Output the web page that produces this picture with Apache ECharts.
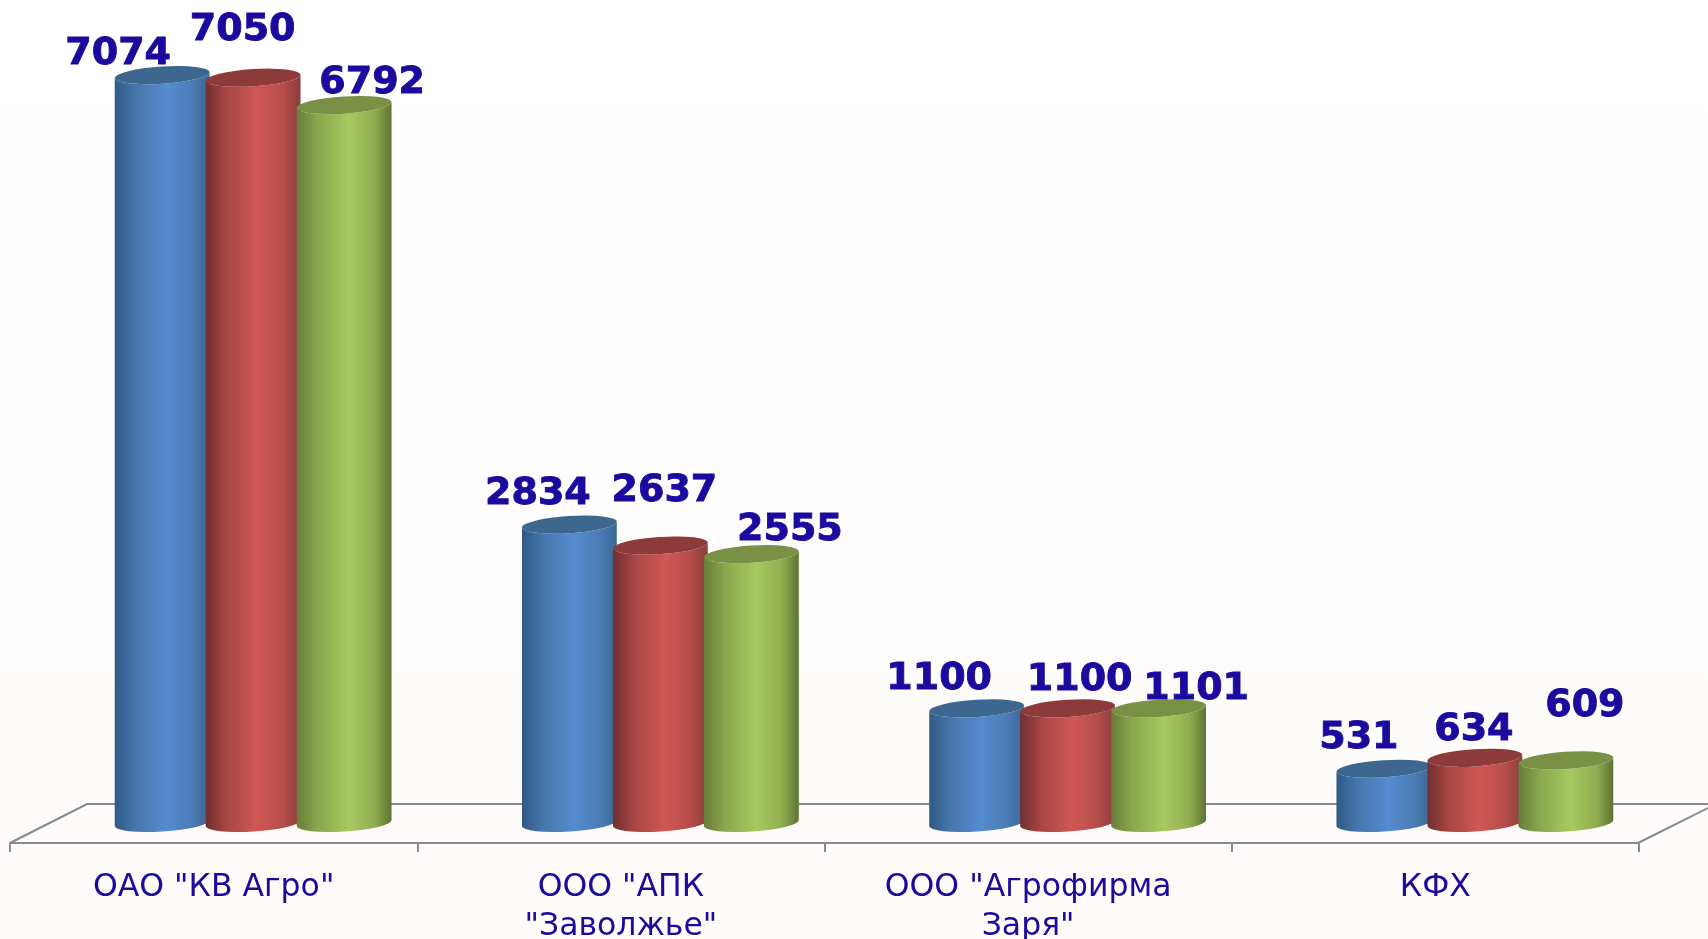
<!DOCTYPE html>
<html><head><meta charset="utf-8">
<style>html,body{margin:0;padding:0;width:100%;height:100%;overflow:hidden;background:#fff}#c{width:1708px;height:939px}</style>
<script src="https://cdn.jsdelivr.net/npm/echarts@6/dist/echarts.min.js"></script>
</head><body><div id="c"></div>
<script>
const categories = ['ОАО "КВ Агро"', 'ООО "АПК\n"Заволжье"', 'ООО "Агрофирма\nЗаря"', 'КФХ'];
const seriesA = [7074, 2834, 1100, 531];
const seriesB = [7050, 2637, 1100, 634];
const seriesC = [6792, 2555, 1101, 609];

// hand-placed data-label offsets from each cylinder's top centre
const labelOffsetsA = [[-44,-22],[-31.5,-31],[-37.5,-30],[-25,-31]];
const labelOffsetsB = [[-10.5,-48],[4,-54.5],[12,-29],[-1,-28]];
const labelOffsetsC = [[28,-22],[38.5,-25],[37.5,-20],[19,-55]];

const TEXT = '#1a0a9e', AXIS = '#8a8a8a';
const G = {left:10, width:1629, baseY:825, top:30};
const PITCH = 91, SHIFT = 39.5, W = 95, RY = 8.6, TILT = -3.6, BASE_LIFT = 2;
const palettes = [
  {l:'#2f5a86', a:'#4676ab', m:'#558ccf', b:'#4a7cb5', r:'#3a6692', top:'#3e678f'},
  {l:'#6f2f2f', a:'#a84644', m:'#cf5855', b:'#b54d4b', r:'#8a3d3c', top:'#8d3b3a'},
  {l:'#677c36', a:'#8aa64e', m:'#a8c960', b:'#92ad50', r:'#5f7330', top:'#7a9044'}
];

function cylinder(idx, offsets) {
  const pal = palettes[idx];
  return function (params, api) {
    const cat = api.value(0), val = api.value(1);
    const top = api.coord([cat, val]), base = api.coord([cat, 0]);
    const cx = top[0] + SHIFT + (idx - 1) * PITCH;
    const rx = W / 2, t = TILT * Math.PI / 180;
    const dx = rx * Math.cos(t), dy = rx * Math.sin(t);
    const lt = [cx - dx, top[1] - dy], rt = [cx + dx, top[1] + dy];
    const lb = [cx - dx, base[1] - BASE_LIFT - dy], rb = [cx + dx, base[1] - BASE_LIFT + dy];
    const arc = (sweep, p) => `A ${rx} ${RY} ${TILT} 0 ${sweep} ${p[0]} ${p[1]}`;
    const body = `M ${lt[0]} ${lt[1]} L ${lb[0]} ${lb[1]} ${arc(0, rb)} L ${rt[0]} ${rt[1]} ${arc(1, lt)} Z`;
    const cap = `M ${lt[0]} ${lt[1]} ${arc(1, rt)} ${arc(1, lt)} Z`;
    const off = offsets[cat];
    return {type:'group', children:[
      {type:'path', shape:{pathData:body}, style:{fill:new echarts.graphic.LinearGradient(0,0,1,0,[
        {offset:0, color:pal.l},{offset:0.22, color:pal.a},{offset:0.55, color:pal.m},{offset:0.82, color:pal.b},{offset:1, color:pal.r}])}},
      {type:'path', shape:{pathData:cap}, style:{fill:pal.top}},
      {type:'text', z2:10, style:{text:String(val), x:cx + off[0], y:top[1] + off[1] + 0.5,
        textAlign:'center', textVerticalAlign:'middle', fill:TEXT, stroke:TEXT, lineWidth:0.9,
        font:'bold 38px "DejaVu Sans"'}}
    ]};
  };
}

const mk = (name, data, idx, offs) => ({
  type:'custom', name, renderItem:cylinder(idx, offs),
  encode:{x:0, y:1}, clip:false, silent:true, z:2 + idx,
  data:data.map((v, i) => [i, v])
});

const chart = echarts.init(document.getElementById('c'), null, {renderer:'canvas'});
const right = G.left + G.width - 1;
const floorStyle = {stroke:AXIS, lineWidth:2, fill:null};
chart.setOption({
  animation:false,
  backgroundColor:new echarts.graphic.LinearGradient(0,0,0,1,[
    {offset:0, color:'#ffffff'},{offset:0.5, color:'#fffdfd'},{offset:1, color:'#fefbfa'}]),
  grid:{left:G.left, width:G.width, top:G.top, height:G.baseY - G.top, outerBoundsMode:'none', containLabel:false},
  xAxis:{type:'category', data:categories, offset:18, boundaryGap:true,
    axisLine:{onZero:false, lineStyle:{color:AXIS, width:2}},
    axisTick:{show:true, length:9, lineStyle:{color:AXIS, width:2}},
    axisLabel:{interval:0, margin:25, color:TEXT, fontFamily:'"DejaVu Sans"', fontSize:31.5, lineHeight:39}},
  yAxis:{type:'value', min:0, max:7500, show:false},
  graphic:[{type:'polyline', silent:true, z:1, shape:{points:[[G.left,843],[87,804],[right + 80,804]]}, style:floorStyle},
           {type:'line', silent:true, z:1, shape:{x1:right,y1:843,x2:right + 80,y2:803}, style:floorStyle}],
  series:[mk('A', seriesA, 0, labelOffsetsA), mk('B', seriesB, 1, labelOffsetsB), mk('C', seriesC, 2, labelOffsetsC)]
});
</script></body></html>
